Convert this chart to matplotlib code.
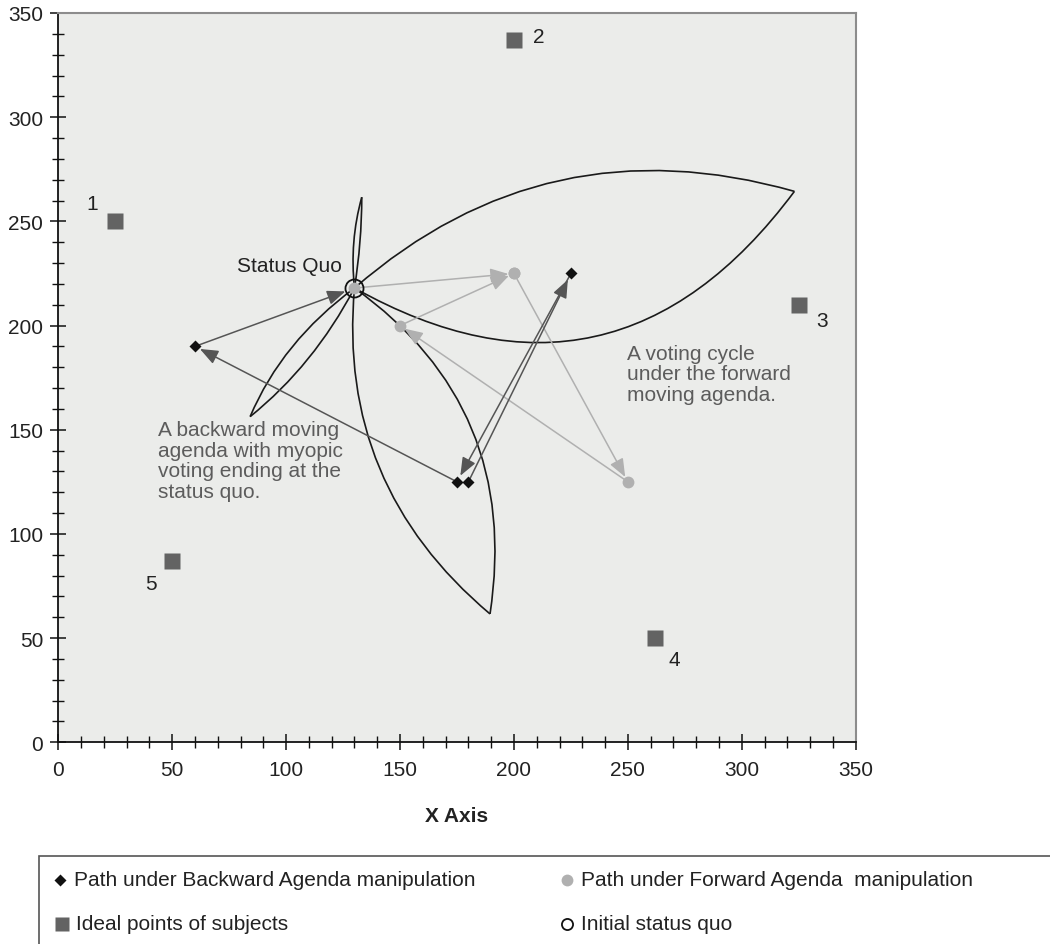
import matplotlib.pyplot as plt
from matplotlib.path import Path
from matplotlib.patches import PathPatch, Rectangle
from matplotlib.lines import Line2D
import numpy as np

plt.rcParams['font.family'] = ['Liberation Sans', 'DejaVu Sans']

# Ideal points of the five subjects
ideal_x = [25, 200, 325, 262, 50]
ideal_y = [250, 337, 210, 50, 87]
ideal_labels = ['1', '2', '3', '4', '5']

# Initial status quo
sq_x, sq_y = 130, 218

# Path under backward agenda manipulation (ends at the status quo)
back_x = [180, 225, 175, 60, 130]
back_y = [125, 225, 125, 190, 218]

# Path under forward agenda manipulation (starts at the status quo)
fwd_x = [130, 200, 250, 150, 200]
fwd_y = [218, 225, 125, 200, 225]

# Win-set petals: tip of each petal and a mid point on each of its two arcs
petal_tip_x = [323.1, 133.2, 84.2, 189.5]
petal_tip_y = [264.4, 261.6, 156.3, 61.6]
petal_arc1_x = [220.4, 129.7, 102.6, 141.0]
petal_arc1_y = [269.7, 240.1, 189.7, 131.6]
petal_arc2_x = [235.3, 132.4, 109.6, 181.5]
petal_arc2_y = [194.7, 239.9, 184.0, 150.3]

BACK_COL = '#555555'
FWD_COL = '#b0b0b0'
IDEAL_COL = '#636363'
NOTE_COL = '#5c5c5c'
TXT_COL = '#222222'

fig = plt.figure(figsize=(10.5, 9.45), dpi=100)
ax = fig.add_axes([58.3 / 1050, 1 - 743.3 / 945, (855.7 - 58.3) / 1050, (743.3 - 14) / 945])
ax.set_facecolor('#ebecea')
ax.set_xlim(0, 350)
ax.set_ylim(0, 350)


def arc(p0, mid, p2):
    # quadratic curve from p0 to p2 passing through mid
    p0, mid, p2 = np.array(p0), np.array(mid), np.array(p2)
    ctrl = 2 * mid - (p0 + p2) / 2
    return Path([p0, ctrl, p2], [Path.MOVETO, Path.CURVE3, Path.CURVE3])


for i in range(len(petal_tip_x)):
    tip = (petal_tip_x[i], petal_tip_y[i])
    for mx, my in [(petal_arc1_x[i], petal_arc1_y[i]), (petal_arc2_x[i], petal_arc2_y[i])]:
        ax.add_patch(PathPatch(arc((sq_x, sq_y), (mx, my), tip), fill=False,
                               ec='#1a1a1a', lw=1.2, zorder=3))


def arrows(xs, ys, color, lw, shrink_end):
    for k in range(len(xs) - 1):
        ax.annotate('', xy=(xs[k + 1], ys[k + 1]), xytext=(xs[k], ys[k]),
                    arrowprops=dict(arrowstyle='-|>,head_length=0.55,head_width=0.22',
                                    color=color, lw=lw, mutation_scale=20,
                                    shrinkA=0, shrinkB=shrink_end[k]),
                    zorder=4)


arrows(fwd_x, fwd_y, FWD_COL, 1.1, [4, 4, 4, 4])
arrows(back_x, back_y, BACK_COL, 1.1, [5, 5, 4, 7])

ax.plot(fwd_x, fwd_y, ls='none', marker='o', ms=8.5, color=FWD_COL, mec='none', zorder=5)
ax.plot(back_x[:-1], back_y[:-1], ls='none', marker='D', ms=6, color='#111111', mec='none', zorder=5)
ax.plot(ideal_x, ideal_y, ls='none', marker='s', ms=11, color=IDEAL_COL, mec='none', zorder=5)
ax.plot([sq_x], [sq_y], ls='none', marker='o', ms=13, mfc='none', mec='#111111', mew=1.3, zorder=6)

label_offsets = [(-16.5, 13), (18, 2.7), (16.5, -11.5), (13.7, -15.6), (-15, -16.5)]
for x, y, lab, off in zip(ideal_x, ideal_y, ideal_labels, label_offsets):
    ax.annotate(lab, (x, y), xytext=off, textcoords='offset points',
                ha='center', va='center', fontsize=15, color=TXT_COL)

ax.annotate('Status Quo', (sq_x, sq_y), xytext=(-9, 16.5), textcoords='offset points',
            ha='right', va='center', fontsize=15, color=TXT_COL)

ax.text(43.6, 154.5, 'A backward moving\nagenda with myopic\nvoting ending at the\nstatus quo.',
        ha='left', va='top', fontsize=15, color=NOTE_COL, linespacing=1.1)
ax.text(249.5, 191.2, 'A voting cycle\nunder the forward\nmoving agenda.',
        ha='left', va='top', fontsize=15, color=NOTE_COL, linespacing=1.1)

ax.set_xticks(np.arange(0, 351, 50))
ax.set_yticks(np.arange(0, 351, 50))
ax.set_xticks(np.arange(0, 351, 10), minor=True)
ax.set_yticks(np.arange(0, 351, 10), minor=True)
ax.tick_params(which='major', direction='inout', length=11.5, width=1.1,
               labelsize=15, labelcolor=TXT_COL, color='#111111')
ax.tick_params(which='minor', direction='inout', length=8, width=1.0, color='#111111')
ax.tick_params(axis='y', which='major', pad=5)
ax.tick_params(axis='x', which='major', pad=7)

for side in ['left', 'bottom']:
    ax.spines[side].set_color('#111111')
    ax.spines[side].set_linewidth(1.3)
for side in ['top', 'right']:
    ax.spines[side].set_color('#8c8c8c')
    ax.spines[side].set_linewidth(1.5)

fig.text(457 / 1050, 1 - 816 / 945, 'X Axis', ha='center', va='center',
         fontsize=15, fontweight='bold', color=TXT_COL)

# legend box below the chart
fig.add_artist(Rectangle((39 / 1050, -0.1), 1.2, (945 - 857) / 945 + 0.1,
                         transform=fig.transFigure, fill=False, ec='#555555', lw=1.2))

legend_items = [
    (60, 881, dict(marker='D', ms=6, color='#111111', mec='none'), 'Path under Backward Agenda manipulation'),
    (567, 881, dict(marker='o', ms=8.5, color=FWD_COL, mec='none'), 'Path under Forward Agenda  manipulation'),
    (62, 925, dict(marker='s', ms=10, color=IDEAL_COL, mec='none'), 'Ideal points of subjects'),
    (567, 925, dict(marker='o', ms=8, mfc='none', mec='#111111', mew=1.3), 'Initial status quo'),
]
for px, py, style, label in legend_items:
    fx, fy = px / 1050, 1 - py / 945
    fig.add_artist(Line2D([fx], [fy], ls='none', transform=fig.transFigure, **style))
    fig.text(fx + 14 / 1050, fy, label, ha='left', va='center', fontsize=15, color=TXT_COL)

fig.savefig('out.png', dpi=100)
